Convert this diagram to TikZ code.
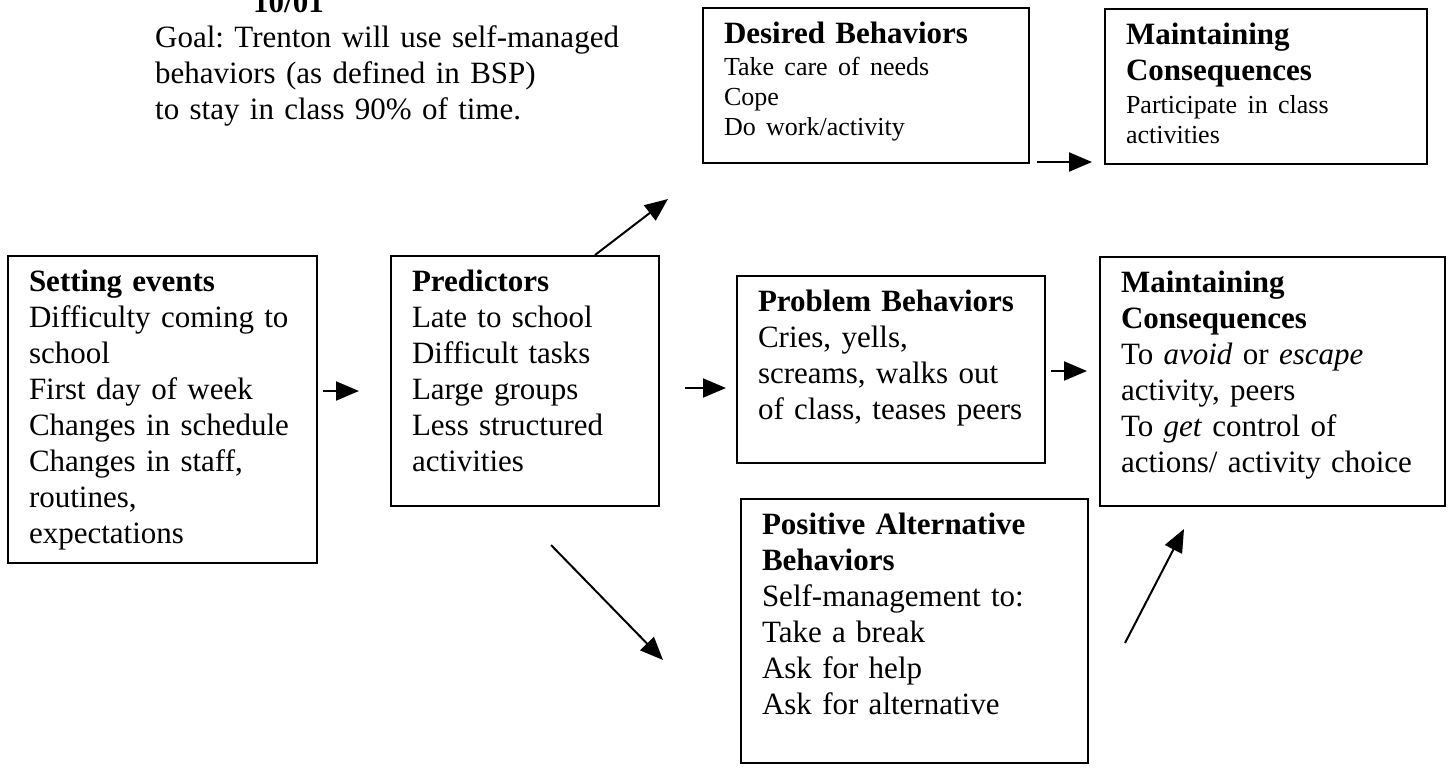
\documentclass[tikz,border=0pt]{standalone}
\usepackage{fontspec}
\setmainfont{Liberation Serif}
\usepackage{tikz}
\usetikzlibrary{arrows.meta}
\frenchspacing
\tikzset{box/.style={draw,line width=2pt,anchor=north west,align=left,inner xsep=21pt,inner ysep=10pt,text height=25pt}}
\tikzset{arr/.style={->,line width=2pt}}
\newcommand{\smtext}{\fontsize{26}{30}\selectfont}

\begin{document}
\begin{tikzpicture}[x=1pt,y=-1pt,>={Triangle[length=23pt,width=19pt]}]
        \useasboundingbox (0,0) rectangle (1452,777);
        \begin{scope}[font=\fontsize{31}{36}\selectfont]
          \node (date) [anchor=base west,inner sep=0pt] at (253,12) {\textbf{10/01}};
          \node (goal) [anchor=north west,align=left,inner sep=0pt,text width=500pt,text height=25pt] at (155,22)
            {Goal: Trenton will use self-managed\\ behaviors (as defined in BSP)\\ to stay in class 90\% of time.};
          \node (setting) [box,text width=267pt,text depth=262pt] at (7,255)
            {{\bfseries Setting events}\\ Difficulty coming to\\ school\\ First day of week\\ Changes in schedule\\ Changes in staff,\\ routines,\\ expectations};
          \node (pred) [box,text width=226pt,text depth=205pt] at (390,255)
            {{\bfseries Predictors}\\ Late to school\\ Difficult tasks\\ Large groups\\ Less structured\\ activities};
          \node (desired) [box,text width=284pt,text depth=110pt] at (702,7)
            {{\bfseries Desired Behaviors}\par\vskip2pt{\smtext Take care of needs\\ Cope\\ Do work/activity\par}};
          \node (maint1) [box,text width=280pt,text depth=110pt] at (1104,8)
            {{\bfseries Maintaining\\ Consequences}\par\vskip3pt{\smtext Participate in class\\ activities\par}};
          \node (problem) [box,text width=266pt,text depth=142pt] at (736,275)
            {{\bfseries Problem Behaviors}\\ Cries, yells,\\ screams, walks out\\ of class, teases peers};
          \node (maint2) [box,text width=303pt,text depth=204pt] at (1099,256)
            {{\bfseries Maintaining\\ Consequences}\\ To \textit{avoid} or \textit{escape}\\ activity, peers\\ To \textit{get} control of\\ actions/ activity choice};
          \node (positive) [box,text width=305pt,text depth=219pt] at (740,498)
            {{\bfseries Positive Alternative\\ Behaviors}\\ Self-management to:\\ Take a break\\ Ask for help\\ Ask for alternative};
        \end{scope}
        \draw [arr,shorten <=5pt,shorten >=31pt] ([yshift=18.5pt]setting.east) -- ([yshift=-10pt]pred.west);
        \draw [arr,shorten <=25pt,shorten >=10pt] ([yshift=-7pt]pred.east) -- ([yshift=-18.5pt]problem.west);
        \draw [arr,shorten <=5pt,shorten >=12pt] ([yshift=-1.5pt]problem.east) -- ([yshift=10.5pt]maint2.west);
        \draw [arr,shorten <=7pt,shorten >=12pt] ([yshift=2pt]desired.south east) -- ([yshift=3pt]maint1.south west);
        \draw [arr] ([xshift=70pt]pred.north) -- ([xshift=-34pt,yshift=-35pt]desired.south west);
        \draw [arr] ([xshift=26pt,yshift=-38pt]pred.south) -- ([xshift=-77pt,yshift=-29pt]positive.west);
        \draw [arr] ([xshift=36pt,yshift=-12pt]positive.east) -- ([xshift=-88.5pt,yshift=-22pt]maint2.south);
      \end{tikzpicture}
\end{document}
